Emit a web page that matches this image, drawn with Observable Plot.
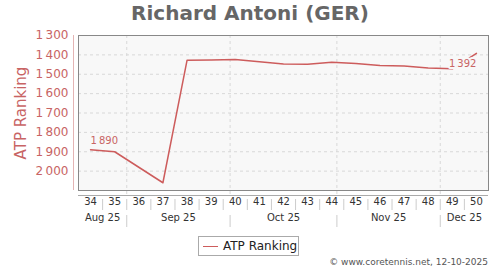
<!DOCTYPE html>
<html><head><meta charset="utf-8">
<script src="https://cdn.jsdelivr.net/npm/d3@7"></script>
<script src="https://cdn.jsdelivr.net/npm/@observablehq/plot@0.6"></script>
<style>
body{margin:0;background:#fff;font-family:"DejaVu Sans",sans-serif}
#wrap{position:relative;width:500px;height:270px;overflow:hidden}
#title{position:absolute;left:0;top:0;width:500px;height:28px;line-height:27px;text-align:center;font-size:20px;font-weight:bold;color:#666}
#chart{position:absolute;left:0;top:28px}
#legend{position:absolute;left:198px;top:236px;width:101px;height:20px;box-sizing:border-box;border:1px solid #aaa;background:#fff;font-size:12px;color:#222;display:flex;align-items:center}
#legend .sw{display:inline-block;width:15px;height:0;border-top:1.5px solid #cd5c5c;margin:0 5px 0 4px}
#caption{position:absolute;right:12px;top:257px;font-size:9px;color:#555;white-space:nowrap}
</style></head>
<body>
<div id="wrap">
  <div id="title"></div>
  <div id="chart"></div>
  <div id="legend"><span class="sw"></span><span id="legtext"></span></div>
  <div id="caption"></div>
</div>
<script>
const title = "Richard Antoni (GER)";
const seriesName = "ATP Ranking";
const caption = "© www.coretennis.net, 12-10-2025";
const year = 2025;
const axisWeeks = [34,35,36,37,38,39,40,41,42,43,44,45,46,47,48,49,50];
const weeks = [34,35,37,38,39,40,41,42,43,44,45,46,47,48,49,50];
const ranks = [1890,1900,2060,1428,1426,1424,1436,1447,1448,1438,1444,1455,1457,1468,1472,1392];
const yTicks = [1300,1400,1500,1600,1700,1800,1900,2000];
const yDomain = [1300, 2100];
const monthLabels = ["Aug 25","Sep 25","Oct 25","Nov 25","Dec 25"];
const labelFirstWeek = 34;
const labelLastWeek = 50;

const red = "#cd5c5c";
const redText = "#c86464";

document.getElementById("title").textContent = title;
document.getElementById("legtext").textContent = seriesName;
document.getElementById("caption").textContent = caption;

const week1Monday = d3.utcMonday.floor(new Date(Date.UTC(year, 0, 4)));
const weekStart = w => d3.utcWeek.offset(week1Monday, w - 1);
const weekCenter = w => d3.utcHour.offset(weekStart(w), 84);

const x0 = weekStart(axisWeeks[0]);
const x1 = weekStart(axisWeeks[axisWeeks.length - 1] + 1);
const data = weeks.map((w, i) => ({date: weekCenter(w), rank: ranks[i], week: w}));
const weekBounds = axisWeeks.slice(1).map(w => weekStart(w));
const monthStarts = d3.utcMonths(d3.utcMonth.ceil(x0), x1);
const monthSegs = d3.utcMonths(d3.utcMonth.floor(x0), x1).map((m, i) => {
  const a = m < x0 ? x0 : m;
  const nx = d3.utcMonth.offset(m, 1);
  const b = nx > x1 ? x1 : nx;
  return {mid: new Date((+a + +b) / 2), label: monthLabels[i]};
});

const loc = d3.formatLocale({decimal: ".", thousands: "\u2009", grouping: [3], currency: ["", ""]});
const fmt = loc.format(",");

const frameH = 155;
const chart = Plot.plot({
  width: 500,
  height: 205,
  marginLeft: 78,
  marginRight: 12,
  marginTop: 7,
  marginBottom: 43,
  style: {fontFamily: "DejaVu Sans, sans-serif", background: "transparent"},
  x: {type: "utc", domain: [x0, x1], axis: null},
  y: {domain: yDomain, reverse: true, axis: null},
  marks: [
    Plot.frame({fill: "#f8f8f8"}),
    Plot.ruleY(yTicks.slice(1), {stroke: "#d8d8d8", strokeDasharray: "3,3"}),
    Plot.ruleX(monthStarts, {stroke: "#d8d8d8", strokeDasharray: "3,3", insetBottom: -5}),
    Plot.ruleY([yDomain[1]], {dy: 5, stroke: "#aaa"}),
    Plot.ruleX(weekBounds, {stroke: "#cccccc", insetTop: frameH + 9, insetBottom: -20}),
    Plot.ruleX(monthStarts, {stroke: "#cccccc", insetTop: frameH + 25, insetBottom: -37}),
    Plot.text(axisWeeks, {x: w => weekCenter(w), text: w => String(w), frameAnchor: "bottom", dy: 14, fontSize: 10, fill: "#333"}),
    Plot.text(monthSegs, {x: "mid", text: "label", frameAnchor: "bottom", dy: 30, fontSize: 10, fill: "#333"}),
    Plot.ruleX([x0], {dx: -5, stroke: "#e4b4b4"}),
    Plot.axisY({ticks: yTicks, tickSize: 0, tickPadding: 10, tickFormat: fmt, fill: redText, fontSize: 12, label: null}),
    Plot.text([seriesName], {frameAnchor: "left", textAnchor: "middle", rotate: -90, dx: -57, text: d => d, fontSize: 15, fill: redText}),
    Plot.line(data, {x: "date", y: "rank", stroke: red, strokeWidth: 1.5}),
    Plot.text(data.filter(d => d.week === labelFirstWeek), {x: "date", y: "rank", text: d => fmt(d.rank), textAnchor: "start", dy: -9, fontSize: 10, fill: redText}),
    Plot.text(data.filter(d => d.week === labelLastWeek), {x: "date", y: "rank", text: d => fmt(d.rank), textAnchor: "end", dx: 0, dy: 10, fontSize: 10, fill: redText, stroke: "#f8f8f8", strokeWidth: 4}),
    Plot.frame({stroke: "#888"})
  ]
});
document.getElementById("chart").appendChild(chart);
</script>
</body></html>
